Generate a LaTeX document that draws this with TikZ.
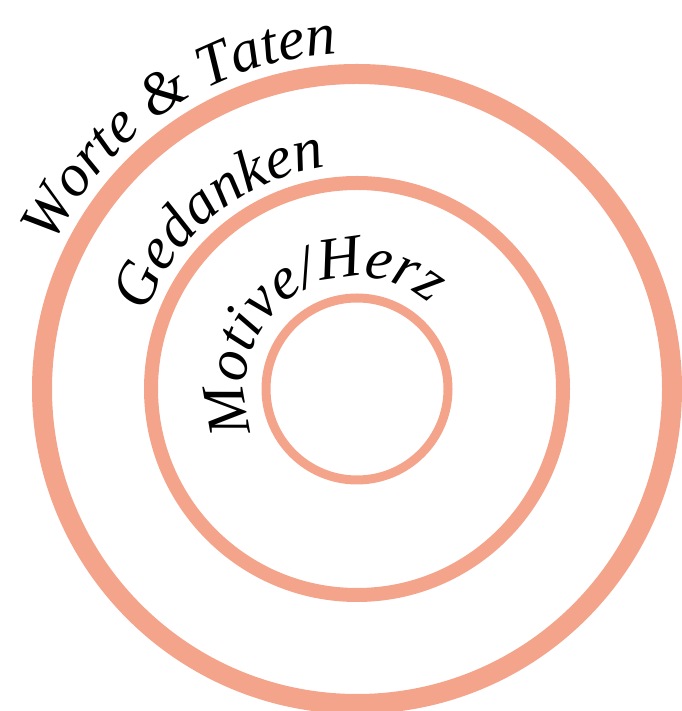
\documentclass[tikz,border=0pt]{standalone}
\usepackage{fontspec}
\setmainfont{Liberation Serif}
\usetikzlibrary{decorations.text}
\definecolor{ringA}{HTML}{F4A48B}
\definecolor{ink}{HTML}{000000}
\tikzset{
  ring/.style={draw=ringA, fill=none},
  outerring/.style={ring, line width=20pt},
  midring/.style={ring, line width=14pt},
  innerring/.style={ring, line width=9pt},
  ringlabel/.style={decorate, decoration={text along path, text align=center, text color=ink}}
}
\newcommand{\ringfont}{\itshape\fontsize{60}{64}\selectfont}

\begin{document}
\begin{tikzpicture}[x=1pt,y=1pt]
\useasboundingbox (0,0) rectangle (681,711);
\coordinate (c) at (357,322);

% the three rings
\draw[outerring] (c) circle[radius=315];
\draw[midring] (c) circle[radius=206];
\draw[innerring] (c) circle[radius=91];

% labels along the rings
\path[ringlabel, decoration={text={|\ringfont|Worte {\&} Taten}}]
  (c) ++(204:336) arc[start angle=204, end angle=44, radius=336];
\path[ringlabel, decoration={text={|\ringfont|Gedanken}}]
  (c) ++(209:224) arc[start angle=209, end angle=49, radius=224];
\path[ringlabel, decoration={text={|\ringfont|Motive/Herz}}]
  (c) ++(216:112) arc[start angle=216, end angle=36, radius=112];

\end{tikzpicture}
\end{document}
